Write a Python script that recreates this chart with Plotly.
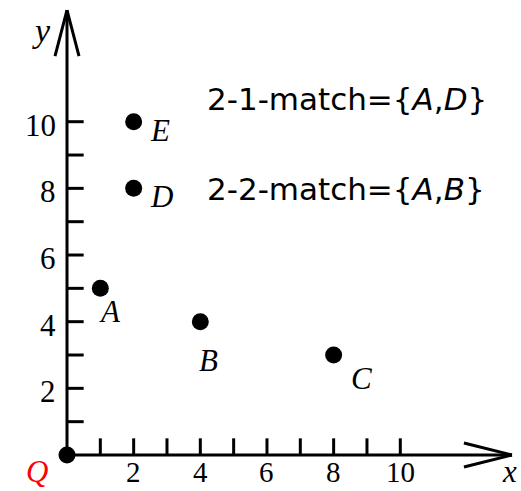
import plotly.graph_objects as go

# data
point_names = ["A", "B", "C", "D", "E"]
point_x = [1, 4, 8, 2, 2]
point_y = [5, 4, 3, 8, 10]
label_dx = [0.3, 0.25, 0.85, 0.83, 0.8]
label_dy = [-0.7, -1.15, -0.7, -0.25, -0.27]
origin_name = "Q"
tick_vals = [1, 2, 3, 4, 5, 6, 7, 8, 9, 10]
label_vals = [2, 4, 6, 8, 10]
match_texts = ["2-1-match={<i>A</i>,<i>D</i>}", "2-2-match={<i>A</i>,<i>B</i>}"]
match_y = [10.67, 7.97]

W, H = 521, 491
px = 33.33
x0p, y0p = 67, 455
xr = [-x0p / px, (W - x0p) / px]
yr = [-(H - y0p) / px, y0p / px]

fig = go.Figure()

shapes = []
line = dict(color="black", width=3)
xmax = 13.35
ymax = 13.35
# axes
shapes.append(dict(type="line", x0=0, y0=0, x1=xmax, y1=0, line=line))
shapes.append(dict(type="line", x0=0, y0=0, x1=0, y1=ymax, line=line))
# arrowheads
shapes.append(dict(type="line", x0=xmax - 1.44, y0=0.36, x1=xmax, y1=0, line=line))
shapes.append(dict(type="line", x0=xmax - 1.44, y0=-0.36, x1=xmax, y1=0, line=line))
shapes.append(dict(type="line", x0=-0.36, y0=ymax - 1.38, x1=0, y1=ymax, line=line))
shapes.append(dict(type="line", x0=0.36, y0=ymax - 1.38, x1=0, y1=ymax, line=line))
# ticks
for t in tick_vals:
    shapes.append(dict(type="line", x0=t, y0=0, x1=t, y1=0.5, line=line))
    shapes.append(dict(type="line", x0=0, y0=t, x1=0.5, y1=t, line=line))
fig.update_layout(shapes=shapes)

fig.add_trace(go.Scatter(x=point_x + [0], y=point_y + [0], mode="markers",
                         marker=dict(color="black", size=17), hoverinfo="skip"))

serif = "Liberation Serif, Times New Roman, serif"
ann = []
for v in label_vals:
    ann.append(dict(x=v, y=-0.5, text=str(v), showarrow=False,
                    font=dict(family=serif, size=29, color="black"),
                    xanchor="center", yanchor="middle"))
    ann.append(dict(x=-0.27, y=v - 0.1, text=str(v), showarrow=False,
                    font=dict(family=serif, size=31, color="black"),
                    xanchor="right", yanchor="middle"))
for n, x, y, dx, dy in zip(point_names, point_x, point_y, label_dx, label_dy):
    ann.append(dict(x=x + dx, y=y + dy, text="<i>" + n + "</i>", showarrow=False,
                    font=dict(family=serif, size=31, color="black"),
                    xanchor="center", yanchor="middle"))
ann.append(dict(x=-0.9, y=-0.48, text="<i>" + origin_name + "</i>", showarrow=False,
                font=dict(family=serif, size=31, color="red"),
                xanchor="center", yanchor="middle"))
ann.append(dict(x=-0.78, y=12.75, text="<i>y</i>", showarrow=False,
                font=dict(family=serif, size=34, color="black"),
                xanchor="center", yanchor="middle"))
ann.append(dict(x=13.56, y=-0.5, text="<i>x</i>", showarrow=False,
                font=dict(family=serif, size=31, color="black"),
                xanchor="right", yanchor="middle"))
for t, y in zip(match_texts, match_y):
    ann.append(dict(x=4.14, y=y, text=t, showarrow=False,
                    font=dict(family="DejaVu Sans, Arial, sans-serif", size=31, color="black"),
                    xanchor="left", yanchor="middle"))
fig.update_layout(annotations=ann)

fig.update_layout(
    width=W, height=H, margin=dict(l=0, r=0, t=0, b=0),
    paper_bgcolor="white", plot_bgcolor="white", showlegend=False,
    xaxis=dict(range=xr, visible=False, fixedrange=True),
    yaxis=dict(range=yr, visible=False, fixedrange=True),
)
fig.write_html("out.html")
